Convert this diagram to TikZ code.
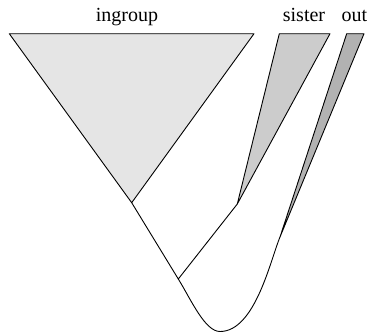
\documentclass[tikz,border=0pt]{standalone}
\usepackage{fontspec}
\setmainfont{Liberation Serif}
\begin{document}
\begin{tikzpicture}[x=1pt,y=-1pt,
  clade/.style={draw=black,line width=0.9pt,line join=round},
  branch/.style={draw=black,line width=0.9pt,line cap=round},
  lab/.style={anchor=base,inner sep=0pt,font=\fontsize{20}{24}\selectfont}]
\useasboundingbox (0,0) rectangle (373,333);
% tips and internal coordinates
\coordinate (iL) at (9.3,33.7);
\coordinate (iR) at (254,33.7);
\coordinate (iA) at (131.7,202.7);
\coordinate (sL) at (279.3,33.7);
\coordinate (sR) at (330,33.7);
\coordinate (sA) at (237.3,204);
\coordinate (oL) at (346.7,33.7);
\coordinate (oR) at (364,33.7);
\coordinate (oA) at (280,237);
\coordinate (n1) at (178.3,279);
\coordinate (bot) at (220,331.5);
% clades
\filldraw[clade,fill=black!10] (iL) -- (iR) -- (iA) -- cycle;
\filldraw[clade,fill=black!20] (sL) -- (sR) -- (sA) -- cycle;
\filldraw[clade,fill=black!30] (oL) -- (oR) -- (oA) -- cycle;
% branches
\draw[branch] (iA) -- (n1) -- (sA);
\draw[branch] (n1) .. controls (191.4,300.3) and (205,331.5) .. (bot)
  .. controls (255,331.5) and (270.4,260.1) .. (oA);
% labels
\node[lab] (ingroup) at (127,21.5) {ingroup};
\node[lab] (sister) at (304,21.5) {sister};
\node[lab] (out) at (354.5,21.5) {out};
\end{tikzpicture}
\end{document}
